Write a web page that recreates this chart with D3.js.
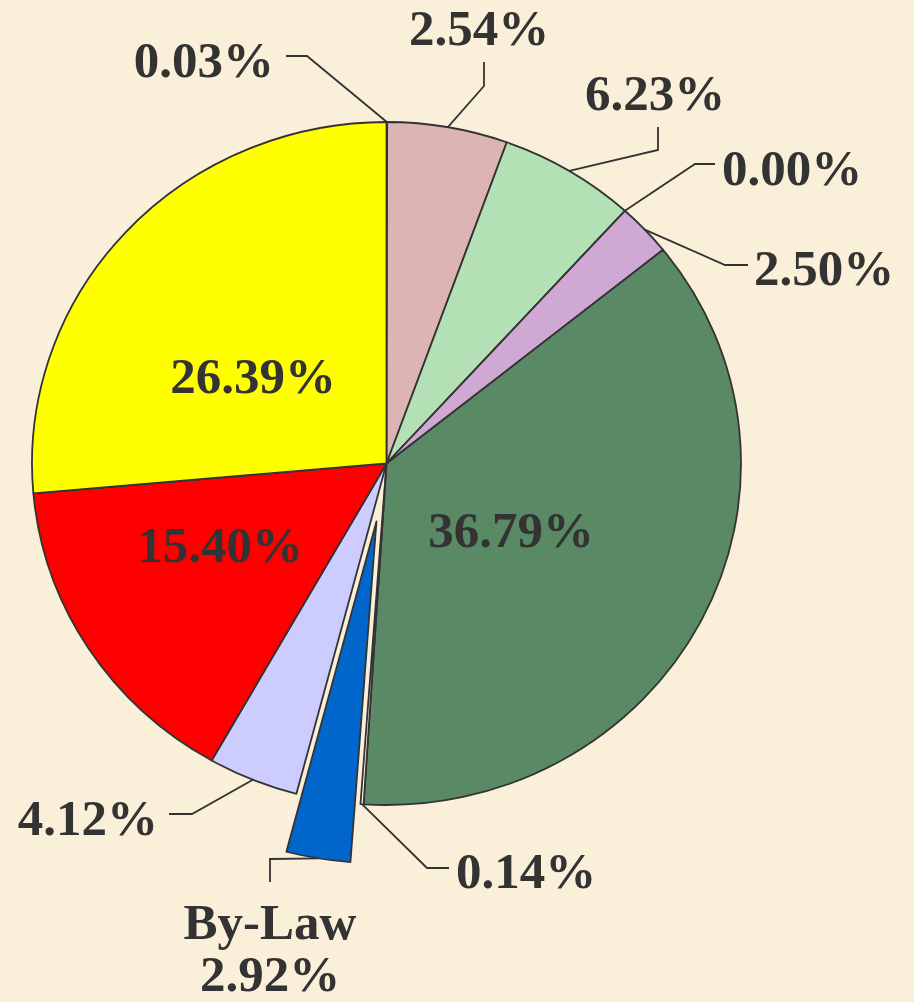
<!DOCTYPE html>
<html>
<head>
<meta charset="utf-8">
<script src="https://cdn.jsdelivr.net/npm/d3@7/dist/d3.min.js"></script>
<style>
  html, body { margin: 0; padding: 0; background: #FAEFD9; }
  svg { display: block; }
</style>
</head>
<body>
<svg id="chart" width="914" height="1002"></svg>
<script>
// ---- data ----
const categories = ["A", "B", "C", "D", "E", "F", "G", "By-Law", "H", "I", "J"];
const shares     = [0.03, 5.48, 6.23, 0.00, 2.50, 36.79, 0.14, 2.92, 4.12, 15.40, 26.39]; // slice sizes as drawn
const labels     = ["0.03%", "2.54%", "6.23%", "0.00%", "2.50%", "36.79%", "0.14%", "By-Law\n2.92%", "4.12%", "15.40%", "26.39%"];
const colors     = ["#F0C8C8", "#DDB4B4", "#B3E1B5", "#D0A8D4", "#D0A8D4", "#5A8966", "#FFF4DC", "#0066CC", "#CCCCFF", "#FF0000", "#FFFF00"];
const exploded   = [false, false, false, false, false, false, false, true, false, false, false];

// ---- layout (kept separate from data) ----
const cx = 386.5, cy = 463.5, rx = 354.5, ry = 341.5, explodeDist = 61;
const layout = [
  { x: 274, y: 77,  anchor: "end",    elbow: [[286, 56], [307, 56]] },
  { x: 479, y: 45,  anchor: "middle", elbow: [[484, 62], [484, 86]] },
  { x: 655, y: 110, anchor: "middle", elbow: [[658, 127], [658, 150]] },
  { x: 722, y: 185, anchor: "start",  elbow: [[715, 164], [695, 164]] },
  { x: 754, y: 285, anchor: "start",  elbow: [[748, 265], [725, 265]] },
  { x: 511, y: 547, anchor: "middle", elbow: null },
  { x: 456, y: 888, anchor: "start",  elbow: [[449, 868], [427, 868]] },
  { x: 270, y: 939, anchor: "middle", elbow: [[270, 882], [270, 859]] },
  { x: 158, y: 835, anchor: "end",    elbow: [[169, 814], [192, 814]] },
  { x: 220, y: 562, anchor: "middle", elbow: null },
  { x: 253, y: 393, anchor: "middle", elbow: null }
];

const svg = d3.select("#chart");
svg.append("rect").attr("width", 914).attr("height", 1002).attr("fill", "#FAEFD9");

const pie = d3.pie().sort(null).value(d => d.v).startAngle(0).endAngle(2 * Math.PI);
const data = categories.map((c, i) => ({ c, v: shares[i], i }));
const arcs = pie(data);

const arc = d3.arc().innerRadius(0).outerRadius(rx);

const g = svg.append("g")
  .attr("transform", `translate(${cx},${cy}) scale(1,${ry / rx})`);

g.selectAll("path")
  .data(arcs)
  .join("path")
  .attr("d", arc)
  .attr("transform", d => {
    if (!exploded[d.data.i]) return null;
    const m = (d.startAngle + d.endAngle) / 2;
    return `translate(${Math.sin(m) * explodeDist},${-Math.cos(m) * explodeDist})`;
  })
  .attr("fill", d => colors[d.data.i])
  .attr("stroke", "#333")
  .attr("stroke-width", 1.8)
  .attr("stroke-linejoin", "round")
  .attr("vector-effect", "non-scaling-stroke");

function edgePoint(d) {
  const m = (d.startAngle + d.endAngle) / 2;
  const e = exploded[d.data.i] ? explodeDist : 0;
  const r = rx + e;
  return [cx + Math.sin(m) * r, cy - Math.cos(m) * r * (ry / rx)];
}

const line = d3.line();
svg.append("g").selectAll("path")
  .data(arcs.filter(d => layout[d.data.i].elbow))
  .join("path")
  .attr("d", d => line([...layout[d.data.i].elbow, edgePoint(d)]))
  .attr("fill", "none")
  .attr("stroke", "#333")
  .attr("stroke-width", 1.8);

const txt = svg.append("g")
  .attr("font-family", "'Liberation Serif', 'Times New Roman', serif")
  .attr("font-weight", "bold")
  .attr("font-size", 51)
  .attr("fill", "#333333");

arcs.forEach(d => {
  const L = layout[d.data.i];
  const parts = labels[d.data.i].split("\n");
  const t = txt.append("text")
    .attr("x", L.x)
    .attr("y", L.y)
    .attr("text-anchor", L.anchor);
  parts.forEach((p, k) => {
    t.append("tspan").attr("x", L.x).attr("dy", k === 0 ? 0 : 52).text(p);
  });
});
</script>
</body>
</html>
